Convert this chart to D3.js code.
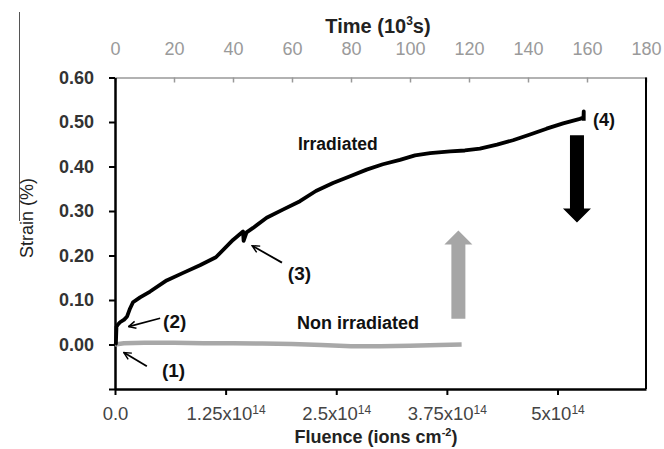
<!DOCTYPE html>
<html>
<head>
<meta charset="utf-8">
<script src="https://cdn.jsdelivr.net/npm/d3@7"></script>
<style>
  body { margin: 0; background: #fff; }
  svg { display: block; font-family: Arial, "Liberation Sans", sans-serif; }
</style>
</head>
<body>
<svg id="chart" width="664" height="449"></svg>
<script>
// tick values
const timeTicks = [0, 20, 40, 60, 80, 100, 120, 140, 160, 180];
const fluenceTicks = [0, 1.25, 2.5, 3.75, 5];
const fluenceLabels = ["0.0", "1.25x10", "2.5x10", "3.75x10", "5x10"];
const strainTicks = [-0.1, 0, 0.1, 0.2, 0.3, 0.4, 0.5, 0.6];

// irradiated sample: [time (10^3 s), strain (%)]
const irradiated = [
  [0, 0.000], [0.3, 0.002], [0.5, 0.040], [1.0, 0.045], [1.7, 0.050],
  [3.1, 0.056], [4.1, 0.063], [5.1, 0.081], [6.1, 0.095], [8.5, 0.106],
  [11.9, 0.119], [17.5, 0.144], [23.1, 0.161], [28.8, 0.178], [34.2, 0.196],
  [40.0, 0.235], [42.7, 0.250], [43.4, 0.254], [43.6, 0.233], [44.6, 0.252],
  [46.8, 0.262], [51.4, 0.285], [56.9, 0.303], [62.7, 0.322], [68.1, 0.345],
  [73.9, 0.363], [79.7, 0.378], [85.3, 0.393], [90.8, 0.405], [96.6, 0.415],
  [101.7, 0.425], [106.8, 0.430], [113.6, 0.434], [118.6, 0.436], [123.7, 0.440],
  [129.5, 0.449], [134.9, 0.459], [140.7, 0.472], [146.3, 0.485], [151.9, 0.497],
  [157.6, 0.507], [158.8, 0.510], [158.9, 0.524], [158.9, 0.503]
];

// non irradiated sample
const nonIrradiated = [
  [0, 0.000], [3, 0.003], [10, 0.004], [20, 0.004], [30, 0.003], [40, 0.003],
  [50, 0.002], [60, 0.001], [70, -0.001], [80, -0.004], [90, -0.004],
  [100, -0.003], [110, -0.001], [117.5, 0.000]
];

// labels and small arrows, placed in data units [time, strain]
const notes = [
  { text: "Irradiated", t: 62.0, s: 0.436, size: 17.5 },
  { text: "Non irradiated", t: 61.7, s: 0.034, size: 18 },
  { text: "(1)", t: 15.9, s: -0.074, size: 19 },
  { text: "(2)", t: 16.3, s: 0.038, size: 19 },
  { text: "(3)", t: 58.6, s: 0.146, size: 19 },
  { text: "(4)", t: 162.0, s: 0.490, size: 18 }
];
const pointers = [
  { from: [10.8, -0.049], to: [3.0, -0.018] },
  { from: [15.3, 0.059], to: [4.6, 0.040] },
  { from: [56.6, 0.184], to: [46.5, 0.222] }
];
// big arrows: [time, strain from, strain to]
const bigArrows = [
  { t: 156.6, from: 0.470, to: 0.274, color: "#000" },
  { t: 116.4, from: 0.058, to: 0.256, color: "#a6a6a6" }
];

const width = 664, height = 449;
const margin = { top: 77.5, right: 18, bottom: 60, left: 115 };

const svg = d3.select("#chart");

// scanning artefact line on the left edge
svg.append("line")
  .attr("x1", 19.5).attr("x2", 19.5).attr("y1", 12).attr("y2", 221)
  .attr("stroke", "#555").attr("stroke-width", 1);

const x = d3.scaleLinear().domain([0, 180]).range([margin.left, width - margin.right]);
const xf = d3.scaleLinear().domain([0, 6]).range([margin.left, width - margin.right]);
const y = d3.scaleLinear().domain([-0.1, 0.6]).range([height - margin.bottom, margin.top]);

// top time axis (grey)
const timeAxis = svg.append("g")
  .attr("transform", `translate(0,${margin.top})`)
  .call(d3.axisTop(x).tickValues(timeTicks).tickSize(-5).tickPadding(23).tickSizeOuter(0));
timeAxis.select(".domain").attr("stroke", "#999").attr("stroke-width", 1.5);
timeAxis.selectAll(".tick line").attr("stroke", "#999").attr("stroke-width", 1.5);
timeAxis.selectAll(".tick text").attr("fill", "#9a9a9a").attr("font-size", 18);

svg.append("text")
  .attr("x", 378).attr("y", 33)
  .attr("text-anchor", "middle")
  .attr("font-size", 20).attr("font-weight", "bold").attr("fill", "#222")
  .call(t => {
    t.append("tspan").text("Time (10");
    t.append("tspan").attr("font-size", 12).attr("dy", -8).text("3");
    t.append("tspan").attr("dy", 8).text("s)");
  });

// right border
svg.append("line")
  .attr("x1", x(180)).attr("x2", x(180)).attr("y1", y(0.6)).attr("y2", y(-0.1))
  .attr("stroke", "#000").attr("stroke-width", 2);

// left strain axis
const strainAxis = svg.append("g")
  .attr("transform", `translate(${margin.left},0)`)
  .call(d3.axisLeft(y).tickValues(strainTicks).tickSize(6).tickSizeOuter(0).tickPadding(15)
    .tickFormat(d => d < 0 ? "" : d3.format(".2f")(d)));
strainAxis.select(".domain").attr("stroke", "#000").attr("stroke-width", 2.5);
strainAxis.selectAll(".tick line").attr("stroke", "#000").attr("stroke-width", 2);
strainAxis.selectAll(".tick text").attr("fill", "#333").attr("font-size", 18).attr("font-weight", "bold");

svg.append("text")
  .attr("transform", `translate(33,218) rotate(-90)`)
  .attr("text-anchor", "middle")
  .attr("font-size", 18).attr("fill", "#222")
  .text("Strain (%)");

// bottom fluence axis
const fluenceAxis = svg.append("g")
  .attr("transform", `translate(0,${height - margin.bottom})`)
  .call(d3.axisBottom(xf).tickValues(fluenceTicks).tickSize(6).tickSizeOuter(0).tickPadding(12)
    .tickFormat(() => ""));
fluenceAxis.select(".domain").attr("stroke", "#000").attr("stroke-width", 2.5);
fluenceAxis.selectAll(".tick line").attr("stroke", "#000").attr("stroke-width", 2);
fluenceAxis.selectAll(".tick text")
  .attr("fill", "#444").attr("font-size", 18.5)
  .each(function(d, i) {
    const t = d3.select(this);
    t.append("tspan").text(fluenceLabels[i]);
    if (i > 0) t.append("tspan").attr("font-size", 12).attr("dy", -6).text("14");
  });

svg.append("text")
  .attr("x", 376).attr("y", 443)
  .attr("text-anchor", "middle")
  .attr("font-size", 18).attr("font-weight", "bold").attr("fill", "#222")
  .call(t => {
    t.append("tspan").text("Fluence (ions cm");
    t.append("tspan").attr("font-size", 11).attr("dy", -7).text("-2");
    t.append("tspan").attr("dy", 7).text(")");
  });

// curves
const line = d3.line().x(d => x(d[0])).y(d => y(d[1]));

svg.append("path")
  .datum(nonIrradiated)
  .attr("d", line)
  .attr("fill", "none").attr("stroke", "#a8a8a8").attr("stroke-width", 4.5);

svg.append("path")
  .datum(irradiated)
  .attr("d", line)
  .attr("fill", "none").attr("stroke", "#000").attr("stroke-width", 3.8)
  .attr("stroke-linejoin", "round");

// pointers
svg.append("defs").append("marker")
  .attr("id", "head").attr("viewBox", "0 0 10 10")
  .attr("refX", 9).attr("refY", 5)
  .attr("markerWidth", 9).attr("markerHeight", 9)
  .attr("markerUnits", "userSpaceOnUse")
  .attr("orient", "auto")
  .append("path").attr("d", "M1,1 L9,5 L1,9")
  .attr("fill", "none").attr("stroke", "#000").attr("stroke-width", 1.6);

svg.append("g").selectAll("line")
  .data(pointers)
  .join("line")
  .attr("x1", d => x(d.from[0])).attr("y1", d => y(d.from[1]))
  .attr("x2", d => x(d.to[0])).attr("y2", d => y(d.to[1]))
  .attr("stroke", "#000").attr("stroke-width", 1.8)
  .attr("marker-end", "url(#head)");

// big block arrows
svg.append("g").selectAll("path")
  .data(bigArrows)
  .join("path")
  .attr("fill", d => d.color)
  .attr("d", d => {
    const cx = x(d.t), y0 = y(d.from), y1 = y(d.to);
    const dir = y1 > y0 ? 1 : -1;
    const hb = y1 - dir * 14;
    return `M${cx - 7},${y0} L${cx + 7},${y0} L${cx + 7},${hb} L${cx + 14},${hb} ` +
           `L${cx},${y1} L${cx - 14},${hb} L${cx - 7},${hb} Z`;
  });

// labels
svg.append("g").selectAll("text")
  .data(notes)
  .join("text")
  .attr("x", d => x(d.t)).attr("y", d => y(d.s))
  .attr("font-size", d => d.size).attr("font-weight", "bold").attr("fill", "#111")
  .text(d => d.text);
</script>
</body>
</html>
